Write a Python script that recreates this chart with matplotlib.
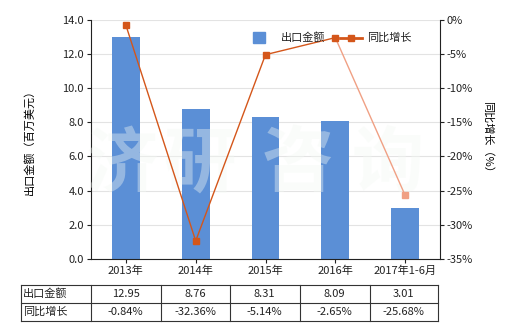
import matplotlib
matplotlib.use("Agg")
import matplotlib.pyplot as plt
from matplotlib.lines import Line2D
from matplotlib.patches import Rectangle
import numpy as np

plt.rcParams['font.family'] = ['Noto Sans CJK SC', 'DejaVu Sans']
plt.rcParams['font.size'] = 8

categories = ['2013年', '2014年', '2015年', '2016年', '2017年1-6月']
export_values = [12.95, 8.76, 8.31, 8.09, 3.01]
growth_values = [-0.84, -32.36, -5.14, -2.65, -25.68]
export_labels = ['12.95', '8.76', '8.31', '8.09', '3.01']
growth_labels = ['-0.84%', '-32.36%', '-5.14%', '-2.65%', '-25.68%']
series_names = ['出口金额', '同比增长']

W, H = 520, 330
fig = plt.figure(figsize=(W/100, H/100), dpi=100)
L, R, T, B = 91, 440, 19.5, 259
ax = fig.add_axes([L/W, 1-B/H, (R-L)/W, (B-T)/H])
x = np.arange(len(categories))
bar_color = '#5b8fd6'
ax.bar(x, export_values, width=0.4, color=bar_color, zorder=2)
ax.set_xlim(-0.5, len(categories)-0.5)
ax.set_ylim(0, 14)
ax.set_yticks(np.arange(0, 14.1, 2))
ax.set_yticklabels([f'{v:.1f}' for v in np.arange(0, 14.1, 2)])
ax.yaxis.grid(True, color='#e3e3e3', linewidth=0.8, zorder=0)
ax.set_axisbelow(True)
ax.set_xticks(x)
ax.set_xticklabels(categories)
for s in ['top', 'right']:
    ax.spines[s].set_visible(False)
ax.spines['left'].set_color('#222222')
ax.spines['bottom'].set_color('#222222')
ax.tick_params(axis='both', length=3, color='#222222', labelcolor='#222222', pad=2)
ax.set_ylabel('出口金额（百万美元）', labelpad=20)

# watermark (above bars, below line)
for cx, ch in zip([122, 200, 298, 388], '济研咨询'):
    ax.text(cx/W, 1-165/H, ch, transform=fig.transFigure, fontsize=52,
            color='#f4f9f4', alpha=0.38, ha='center', va='center',
            fontweight='bold', zorder=5, clip_on=False)

ax2 = ax.twinx()
ax2.set_ylim(-35, 0)
ax2.set_yticks(np.arange(-35, 0.1, 5))
ax2.set_yticklabels([f'{int(v)}%' for v in np.arange(-35, 0.1, 5)])
for s in ['top', 'left', 'bottom']:
    ax2.spines[s].set_visible(False)
ax2.spines['right'].set_color('#222222')
ax2.tick_params(axis='y', length=3, color='#222222', labelcolor='#222222', pad=2)
ax2.set_ylabel('同比增长（%）', rotation=-90, labelpad=14)

line_color = '#d4561a'
light_color = '#f0a084'
ax2.plot(x[:4], growth_values[:4], color=line_color, linewidth=1, marker='s',
         markersize=4.5, zorder=3)
ax2.plot(x[3:], growth_values[3:], color=light_color, linewidth=1, zorder=2)
ax2.plot(x[4:], growth_values[4:], color=light_color, marker='s', markersize=4.5,
         linestyle='none', zorder=3)

# legend (manual)
fig.add_artist(Rectangle((253/W, 1-43/H), 12/W, 11/H, color=bar_color,
                         transform=fig.transFigure))
fig.text(281/W, 1-37.5/H, series_names[0], ha='left', va='center', fontsize=8, color='#222222')
fig.add_artist(Line2D([340/W, 362/W], [1-37.5/H, 1-37.5/H], color=line_color, linewidth=2))
fig.add_artist(Line2D([351/W], [1-37.5/H], color=line_color, marker='s', markersize=4.5))
fig.text(367/W, 1-37.5/H, series_names[1], ha='left', va='center', fontsize=8, color='#222222')

# table
cols = [20.7, 90.7, 160.7, 229.7, 299.7, 369.7, 438]
rows = [285, 303, 321]
lc = '#333333'
for yy in rows:
    fig.add_artist(Line2D([cols[0]/W, cols[-1]/W], [1-yy/H, 1-yy/H], color=lc, linewidth=0.8))
for xx in cols:
    fig.add_artist(Line2D([xx/W, xx/W], [1-rows[0]/H, 1-rows[-1]/H], color=lc, linewidth=0.8))
row_vals = [export_labels, growth_labels]
for r in range(2):
    yc = 1 - (rows[r] + rows[r+1]) / 2 / H
    fig.text((cols[0] + 2)/W, yc, series_names[r], ha='left', va='center', fontsize=8, color='#222222')
    for c in range(5):
        xc = (cols[c+1] + cols[c+2]) / 2 / W
        fig.text(xc, yc, row_vals[r][c], ha='center', va='center', fontsize=8, color='#222222')

fig.savefig('out.png', dpi=100)
